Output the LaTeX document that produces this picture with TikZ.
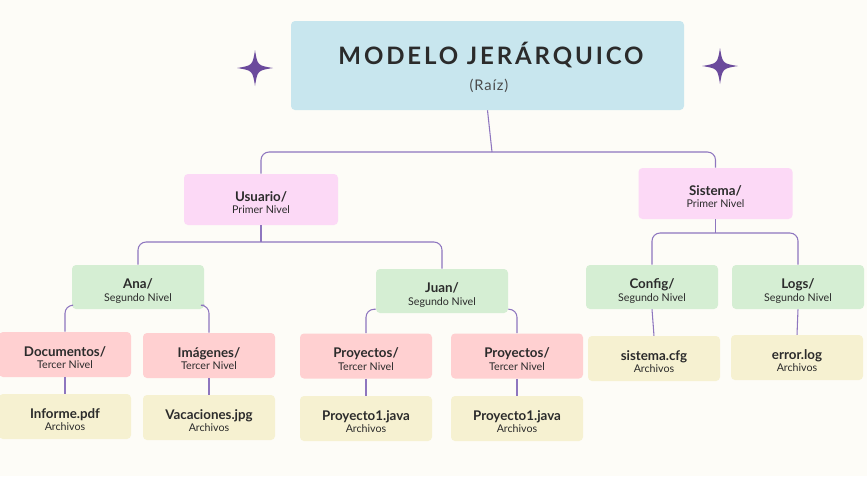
\documentclass[tikz,border=0pt]{standalone}
\usepackage{fontspec}
\setmainfont{Lato}
\newfontfamily\titlefont[LetterSpace=12]{Lato}
\newfontfamily\subfont[LetterSpace=6]{Lato}
\usepackage{tikz}

\definecolor{bgpaper}{HTML}{FDFCF7}
\definecolor{rootblue}{HTML}{C8E6EE}
\definecolor{pinkone}{HTML}{FCD9F6}
\definecolor{greentwo}{HTML}{D5EED3}
\definecolor{redthree}{HTML}{FFD0D1}
\definecolor{yellowleaf}{HTML}{F6F1D1}
\definecolor{linkcol}{HTML}{8E76BF}
\definecolor{starcol}{HTML}{6B4A9C}
\definecolor{ink}{HTML}{2B2B2B}

% two lines of a box: bold name, small level
\newcommand{\boxtxt}[2]{\raisebox{0pt}[\dimexpr\height+7pt\relax][\depth]{\begin{tabular}{@{}c@{}}\fontsize{10}{12}\selectfont\bfseries #1\\[-2.5pt]\fontsize{8}{9.5}\selectfont #2\end{tabular}}}

\begin{document}
\begin{tikzpicture}[x=0.75pt, y=-0.75pt,
    box/.style={rounded corners=3pt, inner sep=0pt, align=center, text=ink,
        minimum width=99pt, minimum height=33.75pt},
    lvlone/.style={box, fill=pinkone, minimum width=115.5pt, minimum height=38.25pt},
    lvltwo/.style={box, fill=greentwo, minimum height=33pt},
    lvlthree/.style={box, fill=redthree},
    leaf/.style={box, fill=yellowleaf},
    link/.style={draw=linkcol, line width=0.8pt, rounded corners=6pt},
    sparkle/.style={fill=starcol}]
    \fill[bgpaper] (0,0) rectangle (867,476);
    \useasboundingbox (0,0) rectangle (867,476);
    % root
    \node[box, fill=rootblue, minimum width=294.75pt, minimum height=66.75pt] (root) at (487.5,65.5) {};
    \node[text=ink] (title) at (491,55) {\titlefont\bfseries\fontsize{18}{22}\selectfont MODELO JERÁRQUICO};
    \node[text=ink!85] (raiz) at (489,86) {\subfont\fontsize{11}{13}\selectfont (Raíz)};
    \fill[sparkle] (255,50) .. controls (257.5,65.5) .. (273,68) .. controls (257.5,70.5) .. (255,86) .. controls (252.5,70.5) .. (237,68) .. controls (252.5,65.5) .. cycle;
    \fill[sparkle] (720,48) .. controls (722.5,63.5) .. (738,66) .. controls (722.5,68.5) .. (720,84) .. controls (717.5,68.5) .. (702,66) .. controls (717.5,63.5) .. cycle;
    % primer nivel
    \node[lvlone] (usuario) at (261,199.5) {\boxtxt{Usuario/}{Primer Nivel}};
    \node[lvlone] (sistema) at (715.5,193.5) {\boxtxt{Sistema/}{Primer Nivel}};
    % segundo nivel
    \node[lvltwo] (ana) at (138,287) {\boxtxt{Ana/}{Segundo Nivel}};
    \node[lvltwo] (juan) at (442,291) {\boxtxt{Juan/}{Segundo Nivel}};
    \node[lvltwo] (config) at (652,287) {\boxtxt{Config/}{Segundo Nivel}};
    \node[lvltwo] (logs) at (798,287) {\boxtxt{Logs/}{Segundo Nivel}};
    % tercer nivel
    \node[lvlthree] (docs) at (65,354.5) {\boxtxt{Documentos/}{Tercer Nivel}};
    \node[lvlthree] (imagenes) at (209,355.5) {\boxtxt{Imágenes/}{Tercer Nivel}};
    \node[lvlthree] (proyA) at (366,356) {\boxtxt{Proyectos/}{Tercer Nivel}};
    \node[lvlthree] (proyB) at (517,356) {\boxtxt{Proyectos/}{Tercer Nivel}};
    % archivos
    \node[leaf] (informe) at (65,416.5) {\boxtxt{Informe.pdf}{Archivos}};
    \node[leaf] (vacaciones) at (209,417.5) {\boxtxt{Vacaciones.jpg}{Archivos}};
    \node[leaf] (javaA) at (366,418.5) {\boxtxt{Proyecto1.java}{Archivos}};
    \node[leaf] (javaB) at (517,418.5) {\boxtxt{Proyecto1.java}{Archivos}};
    \node[leaf] (cfg) at (654,358.5) {\boxtxt{sistema.cfg}{Archivos}};
    \node[leaf] (errlog) at (797,357.5) {\boxtxt{error.log}{Archivos}};
    % connectors
    \coordinate (busroot) at (492,152);
    \coordinate (bususr) at (261,242);
    \coordinate (bussis) at (715.5,233);
    \draw[link] (root.south) -- (busroot);
    \draw[link] (usuario.north) |- (busroot) -| (sistema.north);
    \draw[link] (usuario.south) -- (bususr);
    \draw[link] (ana.north) |- (bususr) -| (juan.north);
    \draw[link] (sistema.south) -- (bussis);
    \draw[link] (config.north) |- (bussis) -| (logs.north);
    \draw[link] ([yshift=3pt]ana.south west) -| (docs.north);
    \draw[link] ([yshift=3pt]ana.south east) -| (imagenes.north);
    \draw[link] ([yshift=3pt]juan.south west) -| (proyA.north);
    \draw[link] ([yshift=3pt]juan.south east) -| (proyB.north);
    \draw[link] (docs.south) -- (informe.north);
    \draw[link] (imagenes.south) -- (vacaciones.north);
    \draw[link] (proyA.south) -- (javaA.north);
    \draw[link] (proyB.south) -- (javaB.north);
    \draw[link] (config.south) -- (cfg.north);
    \draw[link] (logs.south) -- (errlog.north);
\end{tikzpicture}
\end{document}
